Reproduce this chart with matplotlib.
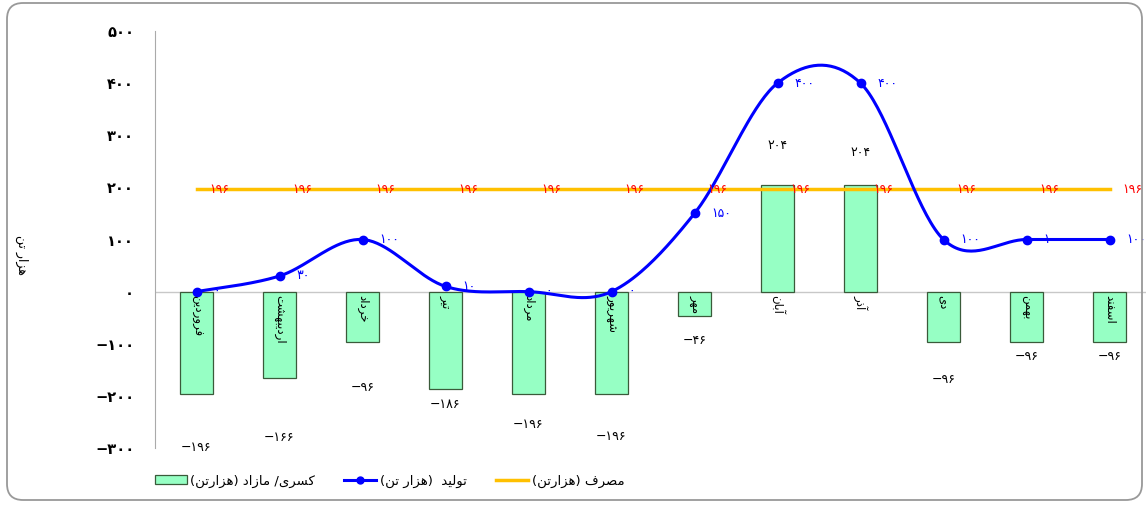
import numpy as np
import matplotlib
matplotlib.use("Agg")
import matplotlib.pyplot as plt
from matplotlib.patches import FancyBboxPatch
from matplotlib.lines import Line2D
from matplotlib.patches import Patch

months = ["فروردین", "اردیبهشت", "خرداد", "تیر", "مرداد", "شهریور",
          "مهر", "آبان", "آذر", "دی", "بهمن", "اسفند"]
production = [0, 30, 100, 10, 0, 0, 150, 400, 400, 100, 100, 100]
consumption = [196] * 12
balance = [-196, -166, -96, -186, -196, -196, -46, 204, 204, -96, -96, -96]
yticks = [-300, -200, -100, 0, 100, 200, 300, 400, 500]

# label offsets for the balance values (moved by hand in the original)
bal_label_off = [-103, -114, -88, -30, -59, -82, -48, 76, 62, -73, -29, -29]

# --- tiny arabic/persian shaper (matplotlib has no text shaping) ---
FORMS = {  # iso, fin, ini, med
    "ا": ("\uFE8D", "\uFE8E", None, None),
    "آ": ("\uFE81", "\uFE82", None, None),
    "د": ("\uFEA9", "\uFEAA", None, None),
    "ذ": ("\uFEAB", "\uFEAC", None, None),
    "ر": ("\uFEAD", "\uFEAE", None, None),
    "ز": ("\uFEAF", "\uFEB0", None, None),
    "و": ("\uFEED", "\uFEEE", None, None),
    "ب": ("\uFE8F", "\uFE90", "\uFE91", "\uFE92"),
    "ت": ("\uFE95", "\uFE96", "\uFE97", "\uFE98"),
    "خ": ("\uFEA5", "\uFEA6", "\uFEA7", "\uFEA8"),
    "س": ("\uFEB1", "\uFEB2", "\uFEB3", "\uFEB4"),
    "ش": ("\uFEB5", "\uFEB6", "\uFEB7", "\uFEB8"),
    "ص": ("\uFEB9", "\uFEBA", "\uFEBB", "\uFEBC"),
    "ف": ("\uFED1", "\uFED2", "\uFED3", "\uFED4"),
    "ل": ("\uFEDD", "\uFEDE", "\uFEDF", "\uFEE0"),
    "م": ("\uFEE1", "\uFEE2", "\uFEE3", "\uFEE4"),
    "ن": ("\uFEE5", "\uFEE6", "\uFEE7", "\uFEE8"),
    "ه": ("\uFEE9", "\uFEEA", "\uFEEB", "\uFEEC"),
    "ی": ("\uFBFC", "\uFBFD", "\uFBFE", "\uFBFF"),
    "ک": ("\uFB8E", "\uFB8F", "\uFB90", "\uFB91"),
}
MIRROR = {"(": ")", ")": "("}


def shape(s):
    out = []
    for i, ch in enumerate(s):
        if ch not in FORMS:
            out.append(MIRROR.get(ch, ch))
            continue
        prev = s[i - 1] if i > 0 else ""
        nxt = s[i + 1] if i + 1 < len(s) else ""
        join_prev = prev in FORMS and FORMS[prev][2] is not None
        join_next = nxt in FORMS and FORMS[ch][2] is not None
        f = FORMS[ch]
        if join_prev and join_next:
            out.append(f[3])
        elif join_prev:
            out.append(f[1])
        elif join_next:
            out.append(f[2])
        else:
            out.append(f[0])
    return "".join(out[::-1])


def fa(n):
    s = str(abs(int(n))).translate(str.maketrans("0123456789", "۰۱۲۳۴۵۶۷۸۹"))
    return ("\u2212" + s) if n < 0 else s


def catmull(xs, ys, n=40):
    xs = np.asarray(xs, float)
    ys = np.asarray(ys, float)
    px = np.concatenate([[xs[0]], xs, [xs[-1]]])
    py = np.concatenate([[ys[0]], ys, [ys[-1]]])
    X, Y = [], []
    t = np.linspace(0, 1, n)
    for i in range(1, len(px) - 2):
        p0, p1, p2, p3 = py[i - 1], py[i], py[i + 1], py[i + 2]
        c1 = p1 + (p2 - p0) / 6
        c2 = p2 - (p3 - p1) / 6
        q0, q1, q2, q3 = px[i - 1], px[i], px[i + 1], px[i + 2]
        d1 = q1 + (q2 - q0) / 6
        d2 = q2 - (q3 - q1) / 6
        Y.append((1 - t) ** 3 * p1 + 3 * (1 - t) ** 2 * t * c1 + 3 * (1 - t) * t ** 2 * c2 + t ** 3 * p2)
        X.append((1 - t) ** 3 * q1 + 3 * (1 - t) ** 2 * t * d1 + 3 * (1 - t) * t ** 2 * d2 + t ** 3 * q2)
    return np.concatenate(X), np.concatenate(Y)


plt.rcParams["font.family"] = ["DejaVu Sans"]

fig = plt.figure(figsize=(11.46, 5.05), dpi=100)
W, H = 1146, 505
fig.patches.append(FancyBboxPatch((7 / W, 5 / H), 1135 / W, 497 / H,
                                  boxstyle="round,pad=0,rounding_size=0.014",
                                  transform=fig.transFigure, fc="none",
                                  ec="#999999", lw=1.3, mutation_aspect=W / H))

ax = fig.add_axes([155 / W, (H - 448) / H, (1151 - 155) / W, (448 - 31) / H])
ax.patch.set_alpha(0)
x = np.arange(len(months))

ax.bar(x, balance, width=0.4, color="#96FFC4", edgecolor="#3A5A3A", lw=0.9, zorder=2)
ax.axhline(0, color="#C8C8C8", lw=1, zorder=1)

ax.plot(x, consumption, color="#FFC000", lw=2.5, zorder=3)
sx, sy = catmull(x, production)
ax.plot(sx, sy, color="#0000FF", lw=2.2, zorder=4)
ax.plot(x, production, "o", color="#0000FF", ms=6, zorder=5)

for i in range(len(months)):
    ax.text(x[i] + 0.15, consumption[i], fa(consumption[i]), color="#FF0000",
            fontsize=9, ha="left", va="center", zorder=6)
    ax.text(x[i] + 0.2, production[i], fa(production[i]), color="#0000FF",
            fontsize=9, ha="left", va="center", zorder=6)
    ax.text(x[i], balance[i] + bal_label_off[i], fa(balance[i]), color="black",
            fontsize=9, ha="center", va="center", zorder=6)
    ax.text(x[i], -6, shape(months[i]), rotation=270, fontsize=8.5,
            ha="center", va="top", zorder=6)

ax.set_xlim(-0.5, 11.5)
ax.set_ylim(-300, 500)
ax.set_yticks(yticks)
ax.set_yticklabels([fa(v) for v in yticks], fontweight="bold", fontsize=10.5)
ax.set_xticks([])
for s in ["top", "right", "bottom"]:
    ax.spines[s].set_visible(False)
ax.spines["left"].set_color("#AAAAAA")
ax.tick_params(axis="y", length=0, pad=15)

fig.text(22 / W, 1 - 255 / H, shape("هزار تن"), rotation=270, fontsize=9,
         ha="center", va="center")

handles = [Patch(fc="#96FFC4", ec="#3A5A3A", lw=0.9),
           Line2D([], [], color="#0000FF", lw=2.2, marker="o", ms=5),
           Line2D([], [], color="#FFC000", lw=2.5)]
labels = [shape("کسری/ مازاد (هزارتن)"), shape("تولید  (هزار تن)"), shape("مصرف (هزارتن)")]
fig.legend(handles, labels, loc="center left", bbox_to_anchor=(143 / W, 1 - 481 / H),
           ncol=3, frameon=False, fontsize=9.5, handlelength=2.4, handletextpad=0.3,
           columnspacing=2.2)

fig.savefig("out.png", dpi=100)
